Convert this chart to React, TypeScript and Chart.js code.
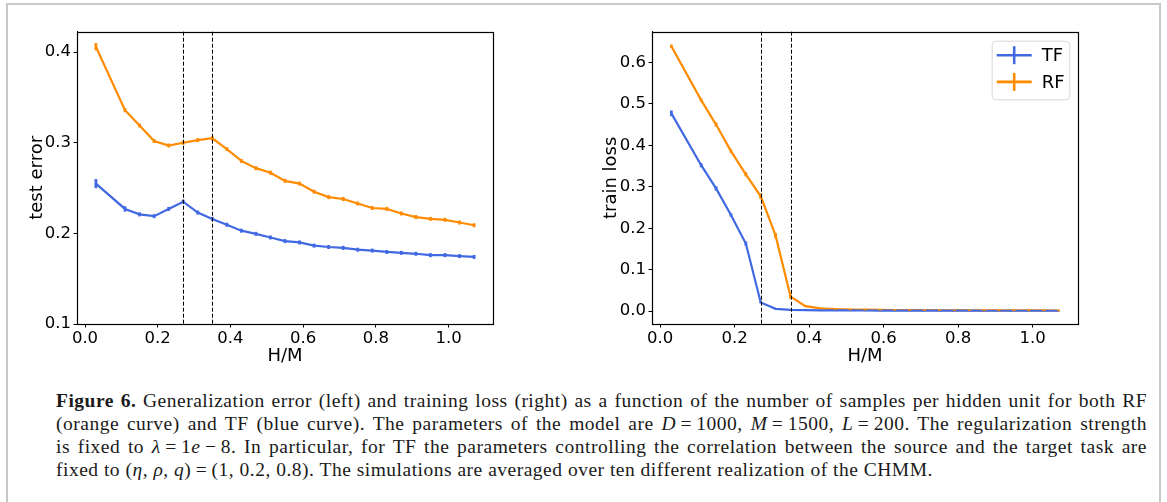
import React, { useEffect, useRef } from "react";
import { Chart, registerables } from "chart.js";

Chart.register(...registerables);

// ---------- data ----------
const hm = [0.03, 0.11, 0.15, 0.19, 0.23, 0.27, 0.31, 0.35, 0.39, 0.43, 0.47, 0.51, 0.55, 0.59, 0.63, 0.67, 0.71, 0.75, 0.79, 0.83, 0.87, 0.91, 0.95, 0.99, 1.03, 1.07];

const testRF = [0.406, 0.336, 0.319, 0.302, 0.297, 0.300, 0.303, 0.305, 0.293, 0.280, 0.272, 0.267, 0.258, 0.255, 0.246, 0.240, 0.238, 0.233, 0.228, 0.227, 0.222, 0.218, 0.216, 0.215, 0.212, 0.209];
const testRFerr = [0.004, 0.002, 0.002, 0.0015, 0.0015, 0.0012, 0.001, 0.0012, 0.0012, 0.001, 0.0015, 0.001, 0.001, 0.0012, 0.001, 0.0012, 0.001, 0.001, 0.001, 0.001, 0.001, 0.001, 0.001, 0.001, 0.001, 0.001];
const testTF = [0.255, 0.227, 0.221, 0.219, 0.227, 0.235, 0.223, 0.216, 0.2095, 0.203, 0.1995, 0.1955, 0.1915, 0.190, 0.1865, 0.185, 0.184, 0.182, 0.181, 0.1795, 0.1785, 0.1775, 0.176, 0.176, 0.175, 0.174];
const testTFerr = [0.005, 0.003, 0.002, 0.001, 0.001, 0.0015, 0.001, 0.001, 0.001, 0.001, 0.001, 0.001, 0.001, 0.001, 0.001, 0.001, 0.001, 0.001, 0.001, 0.001, 0.001, 0.001, 0.001, 0.001, 0.001, 0.001];

const trainTF = [0.477, 0.352, 0.296, 0.232, 0.163, 0.021, 0.0056, 0.003, 0.0025, 0.002, 0.002, 0.0018, 0.0016, 0.0015, 0.0014, 0.0013, 0.0012, 0.0012, 0.0011, 0.0011, 0.001, 0.001, 0.001, 0.001, 0.001, 0.001];
const trainTFerr = [0.007, 0.005, 0.005, 0.004, 0.005, 0.002, 0.001, 0.0005, 0.0005, 0.0005, 0.0005, 0.0005, 0.0005, 0.0005, 0.0005, 0.0005, 0.0005, 0.0005, 0.0005, 0.0005, 0.0005, 0.0005, 0.0005, 0.0005, 0.0005, 0.0005];
const trainRF = [0.639, 0.509, 0.450, 0.386, 0.330, 0.277, 0.182, 0.035, 0.012, 0.0065, 0.005, 0.004, 0.0035, 0.003, 0.0028, 0.0025, 0.0023, 0.0022, 0.002, 0.002, 0.0019, 0.0018, 0.0018, 0.0017, 0.0017, 0.0016];
const trainRFerr = [0.004, 0.004, 0.005, 0.004, 0.005, 0.007, 0.006, 0.005, 0.001, 0.0005, 0.0005, 0.0005, 0.0005, 0.0005, 0.0005, 0.0005, 0.0005, 0.0005, 0.0005, 0.0005, 0.0005, 0.0005, 0.0005, 0.0005, 0.0005, 0.0005];

const xTicks = [0.0, 0.2, 0.4, 0.6, 0.8, 1.0];
const testTicks = [0.1, 0.2, 0.3, 0.4];
const trainTicks = [0.0, 0.1, 0.2, 0.3, 0.4, 0.5, 0.6];
const vlines = [0.27, 0.35];
const seriesLabels = ["TF", "RF"];

const BLUE = "#4169E1";
const ORANGE = "#FF8C00";
const FONT = "DejaVu Sans";

// ---------- plugin ----------
const figPlugin = {
  id: "fig",
  afterDatasetsDraw(chart: any, _args: any, opts: any) {
    const { ctx, chartArea: a, scales } = chart;
    const x = scales.x;
    const y = scales.y;
    const minLen = (opts && opts.minBar) || 2;
    // error bars
    chart.data.datasets.forEach((ds: any) => {
      ctx.save();
      ctx.strokeStyle = ds.borderColor;
      ctx.lineWidth = 2.8;
      ds.data.forEach((p: any, i: number) => {
        const e = Math.max(ds.errors[i], 0);
        const px = x.getPixelForValue(p.x);
        let y1 = y.getPixelForValue(p.y - e);
        let y2 = y.getPixelForValue(p.y + e);
        if (y1 - y2 < minLen) {
          const c = (y1 + y2) / 2;
          y1 = c + minLen / 2;
          y2 = c - minLen / 2;
        }
        ctx.beginPath();
        ctx.moveTo(px, y1);
        ctx.lineTo(px, y2);
        ctx.stroke();
      });
      ctx.restore();
    });
    // vertical dashed lines
    ctx.save();
    ctx.strokeStyle = "#000";
    ctx.lineWidth = 1;
    ctx.setLineDash([4, 2]);
    vlines.forEach((v) => {
      const px = Math.round(x.getPixelForValue(v)) + 0.5;
      ctx.beginPath();
      ctx.moveTo(px, a.top);
      ctx.lineTo(px, a.bottom);
      ctx.stroke();
    });
    ctx.restore();
    // frame
    ctx.save();
    ctx.strokeStyle = "#000";
    ctx.lineWidth = 1.2;
    ctx.strokeRect(Math.round(a.left) + 0.5, Math.round(a.top) + 0.5, Math.round(a.width), Math.round(a.height));
    ctx.restore();
    // legend
    if (opts && opts.legend) {
      const bx = a.right - 86.3, by = a.top + 9, bw = 77.6, bh = 58.6;
      ctx.save();
      ctx.fillStyle = "rgba(255,255,255,0.8)";
      ctx.strokeStyle = "#d8d8d8";
      ctx.lineWidth = 1;
      ctx.beginPath();
      (ctx as any).roundRect(bx + 0.5, by + 0.5, bw, bh, 4);
      ctx.fill();
      ctx.stroke();
      chart.data.datasets.forEach((ds: any, i: number) => {
        const cy = by + 14.5 + i * 26.7;
        ctx.strokeStyle = ds.borderColor;
        ctx.lineWidth = 2.6;
        ctx.beginPath();
        ctx.moveTo(bx + 5, cy);
        ctx.lineTo(bx + 40, cy);
        ctx.stroke();
        ctx.beginPath();
        ctx.moveTo(bx + 22.5, cy - 9);
        ctx.lineTo(bx + 22.5, cy + 9);
        ctx.stroke();
        ctx.fillStyle = "#000";
        ctx.font = `18px "${FONT}"`;
        ctx.textBaseline = "middle";
        ctx.textAlign = "left";
        ctx.fillText(ds.label, bx + 50, cy + 1);
      });
      ctx.restore();
    }
  },
};

function makeConfig(p: {
  tf: number[]; tfErr: number[]; rf: number[]; rfErr: number[];
  yMin: number; yMax: number; yTicks: number[]; yTitle: string;
  yWidth: number; padRight: number; yTitlePad: number; legend: boolean; minBar: number;
}) {
  return {
    type: "line",
    data: {
      datasets: [
        { label: seriesLabels[0], data: hm.map((x, i) => ({ x, y: p.tf[i] })), errors: p.tfErr, borderColor: BLUE, backgroundColor: BLUE, borderWidth: 2.2, pointRadius: 0, tension: 0 },
        { label: seriesLabels[1], data: hm.map((x, i) => ({ x, y: p.rf[i] })), errors: p.rfErr, borderColor: ORANGE, backgroundColor: ORANGE, borderWidth: 2.2, pointRadius: 0, tension: 0 },
      ],
    },
    options: {
      animation: false,
      responsive: false,
      events: [],
      layout: { padding: { left: 0, top: 31.7, right: p.padRight, bottom: 0 } },
      plugins: { legend: { display: false }, tooltip: { enabled: false }, fig: { legend: p.legend, minBar: p.minBar } },
      scales: {
        x: {
          type: "linear",
          min: -0.022,
          max: 1.122,
          afterBuildTicks: (s: any) => { s.ticks = xTicks.map((v) => ({ value: v })); },
          afterFit: (s: any) => { s.height = 370 - 324; },
          ticks: { callback: (v: any) => Number(v).toFixed(1), color: "#000", font: { family: FONT, size: 16.5 }, padding: 1.5, maxRotation: 0, autoSkip: false },
          grid: { display: true, drawOnChartArea: false, drawTicks: true, tickLength: 3.5, color: "#000", tickWidth: 1 },
          border: { display: true, color: "#000", width: 1 },
          title: { display: true, text: "H/M", color: "#000", font: { family: FONT, size: 18 }, padding: { top: 0, bottom: 3 } },
        },
        y: {
          type: "linear",
          min: p.yMin,
          max: p.yMax,
          afterBuildTicks: (s: any) => { s.ticks = p.yTicks.map((v) => ({ value: v })); },
          afterFit: (s: any) => { s.width = p.yWidth; },
          ticks: { callback: (v: any) => Number(v).toFixed(1), color: "#000", font: { family: FONT, size: 16.5 }, padding: 2.5, autoSkip: false },
          grid: { display: true, drawOnChartArea: false, drawTicks: true, tickLength: 3.5, color: "#000", tickWidth: 1 },
          border: { display: true, color: "#000", width: 1 },
          title: { display: true, text: p.yTitle, color: "#000", font: { family: FONT, size: 18 }, padding: { top: p.yTitlePad, bottom: 0 } },
        },
      },
    },
    plugins: [figPlugin],
  };
}

function Panel({ cfg, left, width }: { cfg: any; left: number; width: number }) {
  const ref = useRef<HTMLCanvasElement>(null);
  useEffect(() => {
    const c = new Chart(ref.current as HTMLCanvasElement, cfg as any);
    return () => c.destroy();
  }, []);
  return (
    <canvas
      ref={ref}
      width={width}
      height={370}
      style={{ position: "absolute", left, top: 0, width, height: 370, display: "block" }}
    />
  );
}

const leftCfg = makeConfig({
  tf: testTF, tfErr: testTFerr, rf: testRF, rfErr: testRFerr,
  yMin: 0.1, yMax: 0.4226, yTicks: testTicks, yTitle: "test error",
  yWidth: 77, padRight: 580 - 493, yTitlePad: 26.2, legend: false, minBar: 4,
});
const rightCfg = makeConfig({
  tf: trainTF, tfErr: trainTFerr, rf: trainRF, rfErr: trainRFerr,
  yMin: -0.031, yMax: 0.674, yTicks: trainTicks, yTitle: "train loss",
  yWidth: 72, padRight: 587 - 498, yTitlePad: 20.2, legend: true, minBar: 1.5,
});

const lineStyle: React.CSSProperties = { textAlign: "justify", textAlignLast: "justify" as any, whiteSpace: "nowrap" as any, height: 23, lineHeight: "23px" };

export default function App() {
  return (
    <div style={{ position: "fixed", left: 0, top: 0, width: 1167, height: 502, background: "#fff", overflow: "hidden" }}>
      <div style={{ position: "absolute", left: 6, top: 3, width: 1155, height: 520, border: "2px solid #c8c8c8", boxSizing: "border-box" }} />
      <Panel cfg={leftCfg} left={0} width={580} />
      <Panel cfg={rightCfg} left={580} width={587} />
      <div style={{ position: "absolute", left: 56, top: 389, width: 1091, fontFamily: "'Liberation Serif', serif", fontSize: 19.5, letterSpacing: 0.5, color: "#1a1a1a" }}>
        <div style={lineStyle}><b>Figure 6.</b> Generalization error (left) and training loss (right) as a function of the number of samples per hidden unit for both RF</div>
        <div style={lineStyle}>(orange curve) and TF (blue curve). The parameters of the model are <i>D</i>&#8201;=&#8201;1000, <i>M</i>&#8201;=&#8201;1500, <i>L</i>&#8201;=&#8201;200. The regularization strength</div>
        <div style={lineStyle}>is fixed to <i>λ</i>&#8201;=&#8201;1<i>e</i>&#8201;−&#8201;8. In particular, for TF the parameters controlling the correlation between the source and the target task are</div>
        <div style={{ ...lineStyle, textAlignLast: "left" as any }}>fixed to (<i>η</i>, <i>ρ</i>, <i>q</i>)&#8201;=&#8201;(1, 0.2, 0.8). The simulations are averaged over ten different realization of the CHMM.</div>
      </div>
    </div>
  );
}
